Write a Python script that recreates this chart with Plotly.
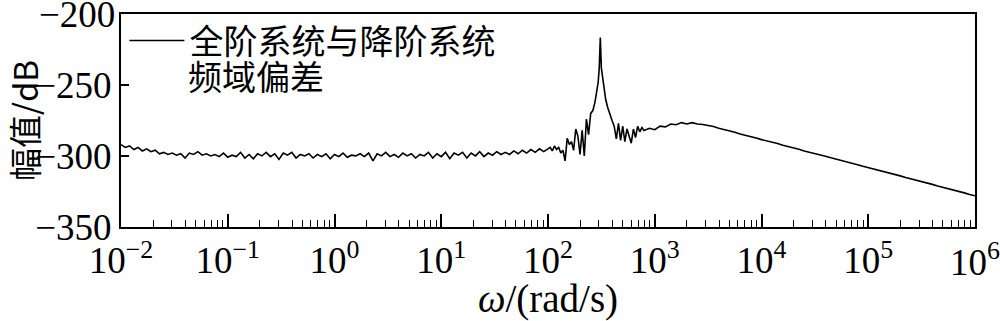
import plotly.graph_objects as go

# log10(omega) grid points and magnitude (dB)
log_w_A = [-2.00,-1.96,-1.92,-1.88,-1.84,-1.80,-1.76,-1.72,-1.68,-1.64,-1.60,-1.56,-1.52,-1.48,-1.44,-1.40,-1.36,-1.32,-1.28,-1.24,
           -1.20,-1.16,-1.12,-1.08,-1.04,-1.00,-0.96,-0.92,-0.88,-0.84,-0.80,-0.76,-0.72,-0.68,-0.64,-0.60,-0.56,-0.52,-0.48,-0.44,
           -0.40,-0.36,-0.32,-0.28,-0.24,-0.20,-0.16,-0.12,-0.08,-0.04,0.00,0.04,0.08,0.12,0.16,0.20,0.24,0.28,0.32,0.36,
           0.40,0.44,0.48,0.52,0.56,0.60,0.64,0.68,0.72,0.76,0.80,0.84,0.88,0.92,0.96,1.00,1.04,1.08,1.12,1.16,
           1.20,1.24,1.28,1.32,1.36,1.40,1.44,1.48,1.52,1.56,1.60,1.64,1.68,1.72,1.76,1.80,1.84,1.88,1.92,1.96]
mag_A = [-292,-294,-293,-295.5,-294,-296.5,-295,-297,-296,-298.5,-297.5,-299,-298,-299.5,-298.5,-301.5,-298,-299,-297,-299.5,
         -298.5,-300,-299,-300.5,-298,-301,-299.5,-300.5,-297.5,-301.5,-299,-302,-298.5,-300,-297.5,-300.5,-298.5,-302.5,-298,-299.5,
         -297.5,-301.5,-299,-300,-298.5,-301.5,-299,-300.5,-298.5,-302,-299,-300.5,-298,-301,-299.5,-300,-298.5,-300.5,-298,-303.5,
         -298.5,-300,-297.5,-300.5,-299,-301,-298,-300,-298.5,-301.5,-299,-300,-297.5,-301.5,-298.5,-300.5,-297.5,-302,-298,-299.5,
         -297.5,-301.5,-298,-300,-297,-300.5,-298,-299.5,-297,-299,-297.5,-299,-296.5,-298.5,-296,-298,-295.5,-297.5,-295,-297]

log_w_B = [2.00,2.02,2.04,2.06,2.08,2.10,2.12,2.14,2.16,2.18,2.20,2.22,2.24,2.26,2.28,2.30,2.32,2.34,2.36,2.38,
           2.40,2.42,2.44,2.46,2.47,2.48,2.49,2.50,2.52,2.54,2.56,2.58,2.60,2.62,2.64,2.66,2.68,2.70,2.72,2.74,
           2.76,2.78,2.80,2.82,2.84,2.86,2.88,2.90]
mag_B = [-295,-294,-296.5,-293,-295.5,-294,-298,-296,-303.5,-287.5,-292,-290,-296,-281,-286,-299,-282,-300,-274,-285,
         -270,-268,-262,-252,-248,-238,-216.5,-238,-249,-260,-266,-271,-275,-279,-288,-277,-289,-279,-290,-281,
         -287,-291,-281,-287,-279,-283,-280,-282]

log_w_C = [2.95,3.00,3.05,3.10,3.15,3.20,3.25,3.30,3.35,3.40,3.45,3.50,3.55,3.60,3.65,3.70,3.75,3.80,3.85,3.90,
           3.95,4.00,4.05,4.10,4.15,4.20,4.25,4.30,4.35,4.40,4.45,4.50,4.55,4.60,4.65,4.70,4.75,4.80,4.85,4.90,
           4.95,5.00,5.05,5.10,5.15,5.20,5.25,5.30,5.35,5.40,5.45,5.50,5.55,5.60,5.65,5.70,5.75,5.80,5.85,5.90,
           5.95,6.00]
mag_C = [-280.5,-281.5,-279,-279.5,-277.5,-278,-276.5,-277.5,-276.5,-277.5,-277.8,-278.5,-279.3,-280.5,-281.3,-282.5,-283.3,-284.5,-285.3,-286.5,
         -287.3,-288.5,-289.3,-290.5,-291.3,-292.5,-293.3,-294.5,-295.3,-296.5,-297.3,-298.3,-299.3,-300.2,-301.3,-302.2,-303.3,-304.2,-305.3,-306.2,
         -307.3,-308.2,-309.2,-310.1,-311.2,-312.1,-313.2,-314.1,-315.2,-316.1,-317.2,-318.1,-319.2,-320.1,-321.2,-322.1,-323.2,-324.1,-325.2,-326.1,
         -327.2,-328.1]

x_tick_exps = [-2, -1, 0, 1, 2, 3, 4, 5, 6]
x_tick_text = ["10<sup>−2</sup>", "10<sup>−1</sup>", "10<sup>0</sup>", "10<sup>1</sup>", "10<sup>2</sup>",
               "10<sup>3</sup>", "10<sup>4</sup>", "10<sup>5</sup>", "10<sup>6</sup>"]
y_tick_vals = [-350, -300, -250, -200]
y_tick_text = ["−350", "−300", "−250", "−200"]
legend_line1 = "全阶系统与降阶系统"
legend_line2 = "频域偏差"

log_w = log_w_A + log_w_B + log_w_C
mag = mag_A + mag_B + mag_C
omega = [10 ** e for e in log_w]

minor_vals = [k * 10 ** d for d in range(-2, 6) for k in range(2, 10)]

serif = "Liberation Serif, Times New Roman, serif"
cjk = "Noto Sans CJK SC, sans-serif"
TICK_SIZE = 37

fig = go.Figure()
fig.add_trace(go.Scatter(x=omega, y=mag, mode="lines", name=legend_line1,
                         line=dict(color="black", width=1.6)))

# Edge tick labels that Plotly would hide because they touch the page border
x_text_main = x_tick_text[:-1] + [""]
y_text_main = y_tick_text[:-1] + [""]

annotations = [
    dict(text=legend_line2, xref="paper", yref="paper", x=(190 - 118) / 857, y=1 - (78 - 13) / 219,
         xanchor="left", yanchor="middle", xshift=-7, yshift=2, showarrow=False,
         font=dict(family=cjk, size=34, color="black")),
    dict(text=y_tick_text[-1], xref="paper", yref="y", x=0, y=y_tick_vals[-1],
         xanchor="right", yanchor="middle", xshift=-4, showarrow=False,
         font=dict(family=serif, size=TICK_SIZE, color="black")),
    dict(text=x_tick_text[-1], xref="x", yref="paper", x=x_tick_exps[-1], y=0,
         xanchor="center", yanchor="top", yshift=-7, showarrow=False,
         font=dict(family=serif, size=TICK_SIZE, color="black")),
]

fig.update_layout(
    width=1000, height=321,
    margin=dict(l=118, r=25, t=13, b=89),
    paper_bgcolor="white", plot_bgcolor="white",
    showlegend=True,
    legend=dict(x=0.004, y=1.01, xanchor="left", yanchor="top", bgcolor="rgba(0,0,0,0)",
                font=dict(family=cjk, size=34, color="black"), valign="top",
                itemwidth=55, tracegroupgap=0),
    font=dict(family=serif, color="black"),
    annotations=annotations,
)
fig.update_xaxes(
    type="log", range=[-2, 6],
    tickmode="array", tickvals=[10 ** e for e in x_tick_exps], ticktext=x_text_main,
    ticks="inside", ticklen=13, tickwidth=1.5, tickcolor="black",
    minor=dict(tickmode="array", tickvals=minor_vals, ticks="inside", ticklen=7,
               tickwidth=1.2, tickcolor="black", showgrid=False),
    showline=True, linewidth=2, linecolor="black", mirror=True,
    showgrid=False, zeroline=False,
    tickfont=dict(family=serif, size=TICK_SIZE, color="black"),
    title=dict(text="<i>ω</i>/(rad/s)", font=dict(family=serif, size=39, color="black"), standoff=0),
)
fig.update_yaxes(
    range=[-350.2, -199.8],
    tickmode="array", tickvals=y_tick_vals, ticktext=y_text_main,
    ticks="inside", ticklen=8, tickwidth=1.5, tickcolor="black",
    showline=True, linewidth=2, linecolor="black", mirror=True,
    showgrid=False, zeroline=False,
    tickfont=dict(family=serif, size=TICK_SIZE, color="black"),
    title=dict(text="幅值/dB", font=dict(family=cjk, size=33, color="black"), standoff=0),
)

fig.write_html("out.html")
